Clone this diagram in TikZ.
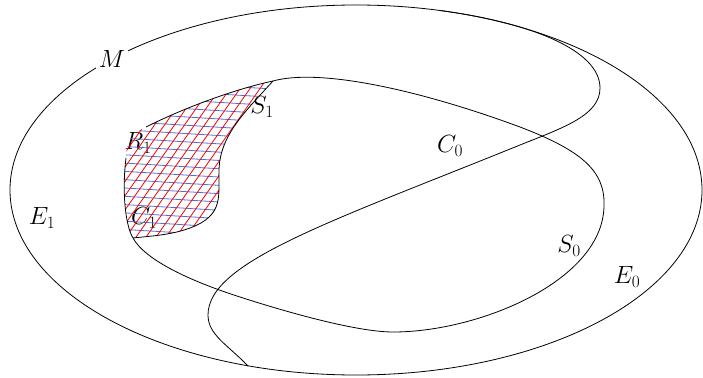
\documentclass[tikz,border=0pt]{standalone}
\begin{document}
\begin{tikzpicture}[x=1pt,y=-1pt,line width=0.8pt,
  lbl/.style={font=\fontsize{25}{29}\selectfont, inner sep=0pt},
  hatchblue/.style={draw={rgb,255:red,70;green,115;blue,215}, line width=0.8pt},
  hatchred/.style={draw=red, line width=0.8pt}]
\useasboundingbox (0,0) rectangle (703,377);
% outer boundary
\draw (356,190) ellipse [x radius=346pt, y radius=185pt];
\node[lbl, fill=white, inner sep=2.5pt] (M) at (112,59) {$M$};
% dividing curve E1 | E0
\draw (440,10.5) .. controls (530,22.5) and (600,50) .. (600,88)
  .. controls (600,115) and (565,127) .. (520,145)
  .. controls (330,222) and (208,262) .. (208,315)
  .. controls (208,335) and (228,345) .. (248,366);
% labels under hatch
\node[lbl] (S1) at (262,107) {$S_1$};
\node[lbl] (R1) at (138,143) {$R_1$};
\node[lbl] (C1) at (144,218) {$C_1$};
% hatched region
\begin{scope}
\clip (273,81) .. controls (245,112) and (220,135) .. (219,170)
  .. controls (218,195) and (225,215) .. (190,228)
  .. controls (170,235.4) and (150,236) .. (133,238)
  .. controls (125,225) and (122,190) .. (126,158)
  .. controls (126,140) and (135,132) .. (146,127)
  .. controls (190,105) and (240,88) .. cycle;
\foreach \i in {0,...,24} \draw[hatchblue] (100,{62+8.3*\i}) -- (300,{74+8.3*\i});
\foreach \i in {0,...,45} \draw[hatchred] ({-40+10*\i},360) -- ({240+10*\i},-40);
\end{scope}
% S1 curve
\draw (273,81) .. controls (245,112) and (220,135) .. (219,170)
  .. controls (218,195) and (225,215) .. (190,228)
  .. controls (170,235.4) and (150,236) .. (133,238);
% inner curve
\draw (146,127) .. controls (190,105) and (240,88) .. (273,81)
  .. controls (320,68) and (420,90) .. (520,127)
  .. controls (580,150) and (605,170) .. (604,205)
  .. controls (604,280) and (480,332) .. (393,332)
  .. controls (355,332) and (280,310) .. (240,297)
  .. controls (190,281) and (145,260) .. (133,238)
  .. controls (125,225) and (122,190) .. (126,158);
% other labels
\node[lbl] (C0) at (450,146) {$C_0$};
\node[lbl] (E1) at (42,218) {$E_1$};
\node[lbl] (S0) at (569,246) {$S_0$};
\node[lbl] (E0) at (627,277) {$E_0$};
\end{tikzpicture}
\end{document}
